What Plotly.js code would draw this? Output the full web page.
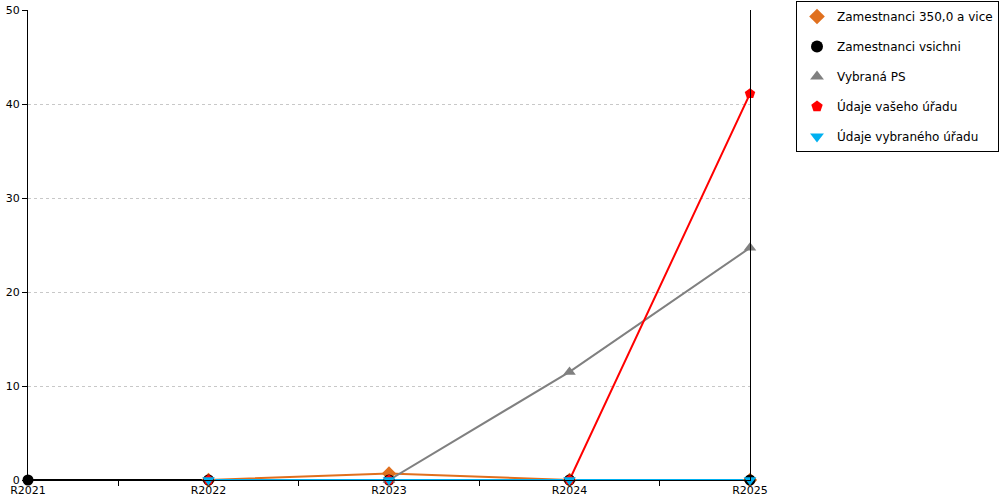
<!DOCTYPE html>
<html><head><meta charset="utf-8">
<script src="https://cdn.plot.ly/plotly-3.0.1.min.js"></script>
<style>html,body{margin:0;padding:0;background:#fff}#c{width:1000px;height:500px}</style>
</head><body><div id="c"></div>
<script>
const categories = ["R2021", "R2022", "R2023", "R2024", "R2025"];
const zam350 = [null, 0, 0.7, 0, 0];
const zamVsichni = [0, 0, 0, 0, 0];
const vybranaPS = [null, null, 0, 11.5, 24.7];
const vasUrad = [null, 0, 0, 0, 41.1];
const vybranyUrad = [null, 0, 0, 0, 0];
const names = ["Zamestnanci 350,0 a vice", "Zamestnanci vsichni", "Vybraná PS", "Údaje vašeho úřadu", "Údaje vybraného úřadu"];
const colors = ["#E0701E", "#000000", "#808080", "#FF0000", "#00B0F0"];
const symbols = ["diamond", "circle", "triangle-up", "pentagon", "triangle-down"];
const series = [zam350, zamVsichni, vybranaPS, vasUrad, vybranyUrad];

const traces = [];
series.forEach((s, i) => {
  traces.push({
    type: "scatter", mode: "lines", x: categories, y: s, name: names[i],
    line: {color: colors[i], width: 2}, showlegend: false, cliponaxis: false, hoverinfo: "skip"
  });
});
series.forEach((s, i) => {
  traces.push({
    type: "scatter", mode: "markers", x: categories, y: s, name: names[i],
    marker: {color: colors[i], symbol: symbols[i], size: 11}, cliponaxis: false,
    legendgroup: "g" + i
  });
});

const layout = {
  width: 1000, height: 500,
  margin: {l: 28, r: 250, t: 10, b: 20},
  paper_bgcolor: "#fff", plot_bgcolor: "#fff",
  font: {family: "DejaVu Sans", size: 11, color: "#000"},
  showlegend: true,
  legend: {xref: "container", yref: "container", x: 0.999, xanchor: "right", y: 0.998, yanchor: "top",
    bordercolor: "#000", borderwidth: 1, bgcolor: "#fff", traceorder: "grouped",
    font: {family: "DejaVu Sans", size: 12}, tracegroupgap: 11, itemsizing: "constant",
    itemwidth: 30},
  xaxis: {type: "category", range: [0, 4], showgrid: false, zeroline: false,
    showline: true, linecolor: "#000", linewidth: 1,
    ticks: "outside", tickson: "boundaries", ticklen: 5, tickcolor: "#000",
    tickfont: {size: 11}, fixedrange: true},
  yaxis: {range: [0, 50], dtick: 10, showgrid: true, gridcolor: "#c8c8c8", griddash: "dot",
    zeroline: false, showline: true, mirror: true, linecolor: "#000", linewidth: 1,
    ticks: "outside", ticklen: 5, tickcolor: "#000", tickfont: {size: 11}}
};
Plotly.newPlot("c", traces, layout, {displayModeBar: false, staticPlot: true});
</script></body></html>
